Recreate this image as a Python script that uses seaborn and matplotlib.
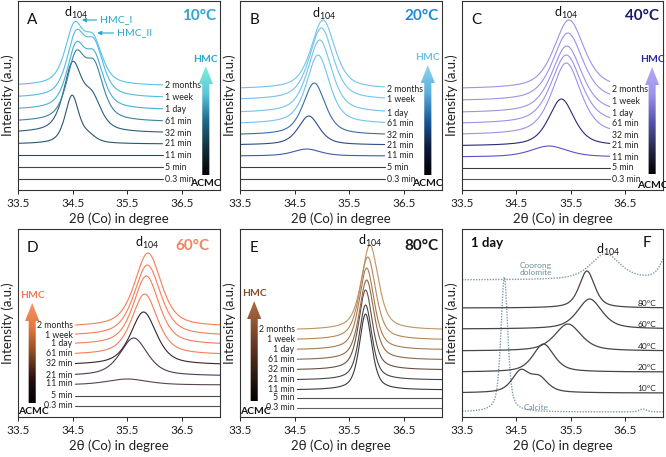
import matplotlib
matplotlib.use("Agg")
import matplotlib.pyplot as plt
import numpy as np
import pandas as pd
import seaborn as sns
from matplotlib.colors import LinearSegmentedColormap
from matplotlib.patches import FancyArrow

# ---- data (y in pixel-like units above the axis) ----
TIMES = ["0.3 min", "5 min", "11 min", "21 min", "32 min", "61 min", "1 day", "1 week", "2 months"]

# A, 10 °C (main peak + HMC_II shoulder)
A_offset = [11, 23, 35, 46, 57, 68, 80, 92, 104]
A_center = [34.5, 34.5, 34.5, 34.49, 34.5, 34.56, 34.56, 34.56, 34.53]
A_height = [0, 0, 0, 48, 66, 61, 58, 58, 56]
A_center2 = [34.85, 34.85, 34.85, 34.8, 34.86, 34.9, 34.9, 34.9, 34.88]
A_height2 = [0, 0, 0, 6, 30, 49, 47, 47, 41]
A_width = [0.3, 0.3, 0.3, 0.3, 0.4, 0.4, 0.4, 0.4, 0.4]

# B, 20 °C
B_offset = [11, 23, 34, 45, 55, 66, 77, 90, 101]
B_center = [34.8, 34.8, 34.72, 34.76, 34.86, 34.93, 34.96, 34.99, 35.02]
B_height = [0, 0, 7, 29, 52, 69, 73, 72, 69]
B_width = [0.5, 0.5, 0.6, 0.46, 0.48, 0.5, 0.52, 0.52, 0.52]

# C, 40 °C
C_offset = [11, 22, 33, 44, 55, 66, 77, 89, 101]
C_center = [35.3, 35.3, 35.1, 35.33, 35.42, 35.42, 35.43, 35.45, 35.47]
C_height = [0, 0, 11, 47, 72, 69, 67, 68, 69]
C_width = [0.6, 0.6, 0.8, 0.56, 0.64, 0.66, 0.66, 0.66, 0.66]

# D, 60 °C
D_offset = [11, 21, 32, 41, 52, 62, 72, 81, 90]
D_center = [35.6, 35.6, 35.5, 35.62, 35.8, 35.82, 35.85, 35.87, 35.88]
D_height = [0, 0, 6, 38, 53, 61, 69, 71, 74]
D_width = [0.5, 0.5, 0.9, 0.6, 0.56, 0.56, 0.56, 0.58, 0.58]

# E, 80 °C
E_offset = [9, 19, 27, 37, 47, 57, 67, 77, 87]
E_center = [35.8, 35.8, 35.8, 35.8, 35.8, 35.82, 35.82, 35.84, 35.88]
E_height = [0, 0, 76, 75, 80, 80, 82, 83, 85]
E_width = [0.3, 0.3, 0.27, 0.28, 0.3, 0.32, 0.33, 0.35, 0.37]

# F, 1 day at each temperature + references
F_labels = ["10°C", "20°C", "40°C", "60°C", "80°C"]
F_offset = [24, 45, 66, 88, 109]
F_center = [34.58, 35.0, 35.45, 35.85, 35.8]
F_height = [21, 28, 27, 30, 37]
F_center2 = [34.92, 35.3, 35.7, 36.1, 36.1]
F_height2 = [14, 0, 0, 0, 0]
F_width = [0.38, 0.46, 0.58, 0.54, 0.34]

REF_labels = ["Calcite", "Coorong dolomite"]
REF_offset = [5, 137]
REF_center = [34.28, 36.14]
REF_height = [135, 26]
REF_width = [0.15, 0.65]
REF_center2 = [36.83, 37.3]
REF_height2 = [3, 28]
REF_width2 = [0.15, 0.3]

A_colors = ["#3c3c3c", "#3a4650", "#2c4a5c", "#2a5872", "#2b5e7c", "#3a84a4", "#48b0d4", "#52bce0", "#5bc2e6"]
B_colors = ["#3a3a4a", "#2b3a78", "#4458b0", "#2d4c8a", "#3a6ea6", "#74c4ea", "#74c4ea", "#74c4ea", "#74c4ea"]
C_colors = ["#555555", "#3a3a48", "#5a52c8", "#2a2878", "#9d92e6", "#9d92e6", "#9d92e6", "#9d92e6", "#9d92e6"]
D_colors = ["#505050", "#4a4a4a", "#5a4454", "#4c3a5a", "#3a2424", "#f47e58", "#f47e58", "#f47e58", "#f47e58"]
E_colors = ["#606060", "#505050", "#3a3a3a", "#4a4444", "#6a5044", "#94684a", "#a87a52", "#b58858", "#c09462"]

XTICKS = [33.5, 34.5, 35.5, 36.5]


def profile(x, c, h, w, eta=0.6):
    d = (x - c) / w
    return h * (eta / (1 + 4 * d ** 2) + (1 - eta) * np.exp(-4 * np.log(2) * d ** 2))


def series_df(x, labels, offset, center, height, width, center2=None, height2=None, width2=None):
    frames = []
    for i, lab in enumerate(labels):
        y = offset[i] + profile(x, center[i], height[i], width[i])
        if center2 is not None:
            w2 = width2[i] if width2 is not None else width[i]
            y = y + profile(x, center2[i], height2[i], w2)
        frames.append(pd.DataFrame({"two_theta": x, "intensity": y, "curve": lab}))
    return pd.concat(frames, ignore_index=True)


def grad_arrow(ax, x, y0, y1, colors):
    cmap = LinearSegmentedColormap.from_list("grad", colors)
    arr = FancyArrow(x, y0, 0, y1 - y0, width=0.13, head_width=0.26, head_length=18,
                     length_includes_head=True, facecolor="none", edgecolor="none")
    ax.add_patch(arr)
    grad = np.linspace(0, 1, 256).reshape(-1, 1)
    im = ax.imshow(grad, cmap=cmap, origin="lower", aspect="auto", zorder=3,
                   extent=[x - 0.14, x + 0.14, y0, y1])
    im.set_clip_path(arr)


sns.set_theme(style="white")
plt.rcParams["font.family"] = ["Lato", "DejaVu Sans"]
plt.rcParams["mathtext.default"] = "regular"

W, H = 666, 457
fig = plt.figure(figsize=(6.66, 4.57), dpi=100)


def add_axes(left, top, right, bottom):
    return fig.add_axes([left / W, 1 - bottom / H, (right - left) / W, (bottom - top) / H])


def style_axes(ax, ytop):
    ax.set_xlim(33.5, 37.2)
    ax.set_ylim(0, ytop)
    ax.set_xticks(XTICKS)
    ax.set_xticklabels([f"{t:.1f}" for t in XTICKS])
    ax.set_yticks([])
    ax.tick_params(axis="x", bottom=True, direction="out", length=3, width=0.7,
                   labelsize=8.5, colors="#222222", pad=3)
    for sp in ax.spines.values():
        sp.set_color("#333333")
        sp.set_linewidth(0.8)
    ax.set_xlabel("2θ (Co) in degree", fontsize=9.5, color="#222222", labelpad=2)
    ax.set_ylabel("Intensity (a.u.)", fontsize=9.5, color="#222222", labelpad=3)


panels = [
    dict(letter="A", temp="10°C", tcol="#2aa6d0", box=(18, 1, 220, 190), off=A_offset, cen=A_center,
         hei=A_height, wid=A_width, cen2=A_center2, hei2=A_height2, cols=A_colors, side="right",
         x_end=36.15, lab_x=36.19, acmc_y=6, d104=(34.56, 177), hmc="#2aa6c8",
         grad=["#000000", "#12303f", "#1e6a8a", "#5ac8d8", "#80f0dc"], arrow=(36.94, 15, 124)),
    dict(letter="B", temp="20°C", tcol="#1f8ad0", box=(240, 1, 442, 190), off=B_offset, cen=B_center,
         hei=B_height, wid=B_width, cols=B_colors, side="right", x_end=36.15, lab_x=36.19, acmc_y=6,
         d104=(35.04, 176), hmc="#6cc0e8",
         grad=["#000000", "#0d1a3a", "#1c5a9a", "#5ab0dd", "#92d4f0"], arrow=(36.94, 15, 125)),
    dict(letter="C", temp="40°C", tcol="#1c1c6c", box=(462, 1, 663, 190), off=C_offset, cen=C_center,
         hei=C_height, wid=C_width, cols=C_colors, side="right", x_end=36.22, lab_x=36.26, acmc_y=4,
         d104=(35.42, 177), hmc="#2a2aa0",
         grad=["#000000", "#2a2a50", "#5a55b0", "#9c94e8", "#b2aaf6"], arrow=(37.0, 16, 123)),
    dict(letter="D", temp="60°C", tcol="#f4845f", box=(18, 229, 220, 417), off=D_offset, cen=D_center,
         hei=D_height, wid=D_width, cols=D_colors, side="left", acmc_y=6, d104=(35.86, 174), hmc="#f47a50",
         grad=["#000000", "#2a1010", "#8a4a20", "#e07840", "#f89262"], arrow=(33.76, 14, 114)),
    dict(letter="E", temp="80°C", tcol="#1a1a1a", box=(240, 229, 442, 417), off=E_offset, cen=E_center,
         hei=E_height, wid=E_width, cols=E_colors, side="left", acmc_y=6, d104=(35.88, 176), hmc="#8a4a28",
         grad=["#000000", "#2a1a10", "#5a3020", "#8a5030", "#aa6c42"], arrow=(33.76, 16, 116)),
]

for p in panels:
    ax = add_axes(*p["box"])
    ytop = p["box"][3] - p["box"][1]
    if p["side"] == "right":
        x = np.linspace(33.5, p["x_end"], 500)
    else:
        x = np.linspace(34.55, 37.2, 500)
    df = series_df(x, TIMES, p["off"], p["cen"], p["hei"], p["wid"], p.get("cen2"), p.get("hei2"))
    sns.lineplot(data=df, x="two_theta", y="intensity", hue="curve", hue_order=TIMES,
                 palette=p["cols"], estimator=None, sort=False, legend=False, lw=0.8, ax=ax)
    for i, lab in enumerate(TIMES):
        if p["side"] == "right":
            ax.text(p["lab_x"], p["off"][i], lab, fontsize=6.3, ha="left", va="center", color="#222222")
        else:
            ax.text(34.5, p["off"][i] + 1, lab, fontsize=6.3, ha="right", va="center", color="#222222")
    ax2x, y0, y1 = p["arrow"]
    grad_arrow(ax, ax2x, y0, y1, p["grad"])
    ax.text(ax2x, y1 + 7, "HMC", fontsize=7.5, fontweight="bold", color=p["hmc"], ha="center", va="center")
    ax.text(ax2x + (0.0 if p["side"] == "right" else 0.02), p["acmc_y"], "ACMC", fontsize=7.5,
            fontweight="bold", color="#111111", ha="center", va="center", clip_on=False)
    ax.text(33.76, ytop - 19, p["letter"], fontsize=11, ha="center", va="center", color="#111111")
    tx = 36.82 if p["letter"] != "D" else 36.7
    ax.text(tx, ytop - (15 if p["side"] == "right" else 17), p["temp"], fontsize=11, fontweight="bold",
            color=p["tcol"], ha="center", va="center")
    ax.text(p["d104"][0], p["d104"][1], "d$_{104}$", fontsize=9, ha="center", va="center", color="#111111")
    if p["letter"] == "A":
        ax.annotate("HMC_I", xy=(34.67, 170), xytext=(35.0, 170), fontsize=7.5, color="#2aa6c8",
                    va="center", ha="left",
                    arrowprops=dict(arrowstyle="-|>", color="#2aa6c8", lw=0.8, mutation_scale=6,
                                    shrinkA=0, shrinkB=0))
        ax.annotate("HMC_II", xy=(34.95, 157), xytext=(35.31, 157), fontsize=7.5, color="#2aa6c8",
                    va="center", ha="left",
                    arrowprops=dict(arrowstyle="-|>", color="#2aa6c8", lw=0.8, mutation_scale=6,
                                    shrinkA=0, shrinkB=0))
    style_axes(ax, ytop)

# ---- panel F ----
axf = add_axes(462, 229, 663, 417)
xf = np.linspace(33.5, 37.2, 700)
df_ref = series_df(xf, REF_labels, REF_offset, REF_center, REF_height, REF_width,
                   REF_center2, REF_height2, REF_width2)
sns.lineplot(data=df_ref, x="two_theta", y="intensity", hue="curve", hue_order=REF_labels,
             palette=["#7e9ba5", "#7e9ba5"], estimator=None, sort=False, legend=False,
             lw=1.0, linestyle=(0, (1, 1)), ax=axf)
df_f = series_df(xf, F_labels, F_offset, F_center, F_height, F_width, F_center2, F_height2)
sns.lineplot(data=df_f, x="two_theta", y="intensity", hue="curve", hue_order=F_labels,
             palette=["#464646"] * 5, estimator=None, sort=False, legend=False, lw=0.9, ax=axf)
for i, lab in enumerate(F_labels):
    axf.text(37.08, F_offset[i] + 1, lab, fontsize=6, ha="right", va="bottom", color="#222222")
axf.text(34.86, 148, "Coorong\ndolomite", fontsize=6, ha="center", va="center", color="#6f8f99",
         linespacing=1.1)
axf.text(34.86, 9, "Calcite", fontsize=6, ha="center", va="center", color="#6f8f99")
axf.text(33.96, 174, "1 day", fontsize=9.5, fontweight="bold", ha="center", va="center", color="#111111")
axf.text(36.91, 174, "F", fontsize=11, ha="center", va="center", color="#111111")
axf.text(36.19, 167, "d$_{104}$", fontsize=9, ha="center", va="center", color="#111111")
style_axes(axf, 188)

fig.savefig("out.png", dpi=100)
